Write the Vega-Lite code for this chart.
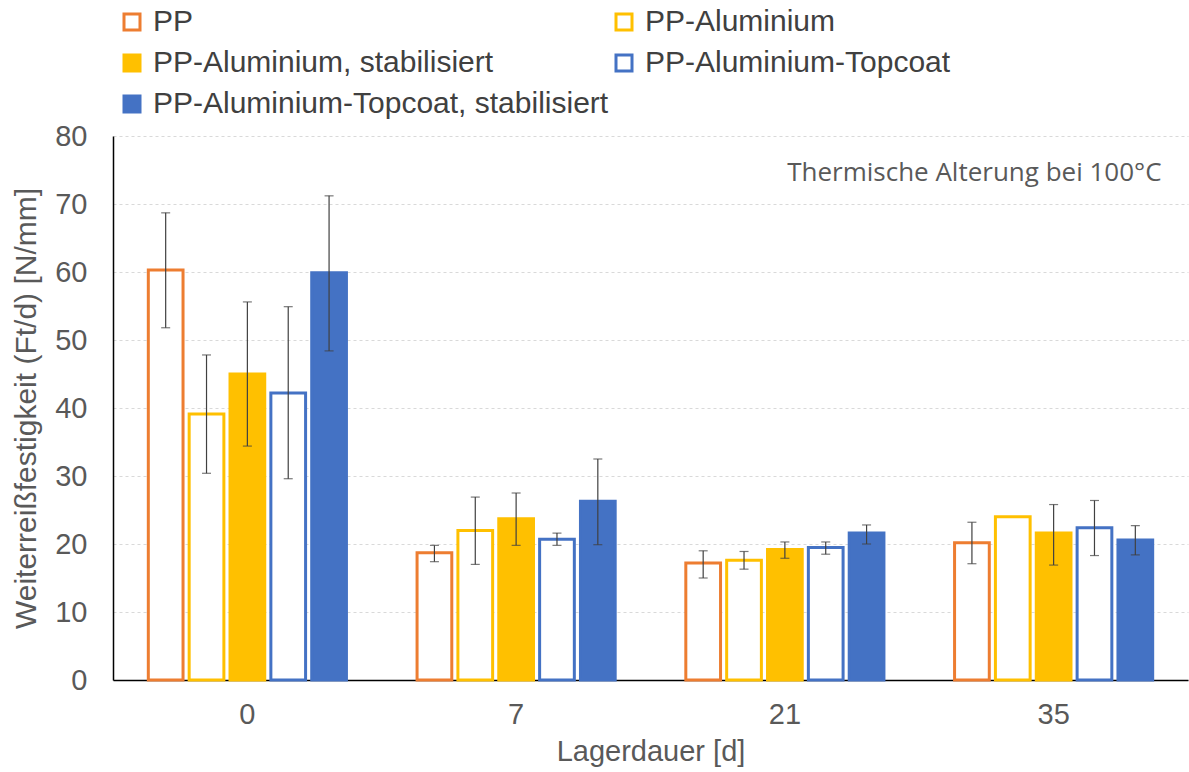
{
  "$schema": "https://vega.github.io/schema/vega-lite/v6.json",
  "width": 1075,
  "height": 544,
  "autosize": "none",
  "padding": {"left": 113, "top": 136, "right": 1, "bottom": 92},
  "background": "white",
  "config": {"font": "Liberation Sans", "view": {"stroke": null}},
  "data": {"values": [
    {"day": "0", "series": "PP", "value": 60.3, "lo": 51.8, "hi": 68.7},
    {"day": "0", "series": "PP-Aluminium", "value": 39.1, "lo": 30.4, "hi": 47.8},
    {"day": "0", "series": "PP-Aluminium, stabilisiert", "value": 45.0, "lo": 34.4, "hi": 55.6},
    {"day": "0", "series": "PP-Aluminium-Topcoat", "value": 42.2, "lo": 29.6, "hi": 54.9},
    {"day": "0", "series": "PP-Aluminium-Topcoat, stabilisiert", "value": 59.9, "lo": 48.4, "hi": 71.2},
    {"day": "7", "series": "PP", "value": 18.7, "lo": 17.4, "hi": 19.8},
    {"day": "7", "series": "PP-Aluminium", "value": 22.0, "lo": 17.0, "hi": 26.9},
    {"day": "7", "series": "PP-Aluminium, stabilisiert", "value": 23.7, "lo": 19.8, "hi": 27.5},
    {"day": "7", "series": "PP-Aluminium-Topcoat", "value": 20.7, "lo": 19.8, "hi": 21.6},
    {"day": "7", "series": "PP-Aluminium-Topcoat, stabilisiert", "value": 26.3, "lo": 19.9, "hi": 32.5},
    {"day": "21", "series": "PP", "value": 17.2, "lo": 15.0, "hi": 19.0},
    {"day": "21", "series": "PP-Aluminium", "value": 17.6, "lo": 16.3, "hi": 18.9},
    {"day": "21", "series": "PP-Aluminium, stabilisiert", "value": 19.2, "lo": 17.9, "hi": 20.3},
    {"day": "21", "series": "PP-Aluminium-Topcoat", "value": 19.5, "lo": 18.5, "hi": 20.3},
    {"day": "21", "series": "PP-Aluminium-Topcoat, stabilisiert", "value": 21.6, "lo": 20.0, "hi": 22.8},
    {"day": "35", "series": "PP", "value": 20.2, "lo": 17.1, "hi": 23.2},
    {"day": "35", "series": "PP-Aluminium", "value": 24.0, "lo": null, "hi": null},
    {"day": "35", "series": "PP-Aluminium, stabilisiert", "value": 21.6, "lo": 16.9, "hi": 25.8},
    {"day": "35", "series": "PP-Aluminium-Topcoat", "value": 22.4, "lo": 18.3, "hi": 26.4},
    {"day": "35", "series": "PP-Aluminium-Topcoat, stabilisiert", "value": 20.6, "lo": 18.4, "hi": 22.7}
  ]},
  "encoding": {
    "x": {
      "field": "day", "type": "nominal", "sort": ["0", "7", "21", "35"],
      "scale": {"paddingInner": 0.24, "paddingOuter": 0.12},
      "title": "Lagerdauer [d]",
      "axis": {
        "labelAngle": 0, "ticks": false, "domainColor": "black", "domainWidth": 1.5,
        "labelPadding": 20, "labelFontSize": 29, "labelColor": "#595959",
        "titleFontSize": 29, "titleColor": "#595959", "titleFontWeight": "normal",
        "titlePadding": 8, "grid": false
      }
    }
  },
  "layer": [
    {
      "mark": {"type": "bar", "strokeWidth": 3, "strokeJoin": "miter"},
      "encoding": {
        "xOffset": {
          "field": "series", "type": "nominal",
          "sort": ["PP", "PP-Aluminium", "PP-Aluminium, stabilisiert", "PP-Aluminium-Topcoat", "PP-Aluminium-Topcoat, stabilisiert"],
          "scale": {"paddingInner": 0.15, "paddingOuter": 0.075}
        },
        "y": {
          "field": "value", "type": "quantitative",
          "scale": {"domain": [0, 80], "nice": false},
          "title": "Weiterreißfestigkeit (Ft/d) [N/mm]",
          "axis": {
            "values": [0, 10, 20, 30, 40, 50, 60, 70, 80],
            "domainColor": "black", "domainWidth": 1.5, "ticks": false,
            "labelPadding": 26, "labelFontSize": 29, "labelColor": "#595959",
            "titleFontSize": 30, "titleColor": "#595959", "titleFontWeight": "normal",
            "titlePadding": 13, "grid": true, "gridColor": "#D9D9D9", "gridDash": [3, 3]
          }
        },
        "stroke": {
          "field": "series", "type": "nominal",
          "scale": {
            "domain": ["PP", "PP-Aluminium", "PP-Aluminium, stabilisiert", "PP-Aluminium-Topcoat", "PP-Aluminium-Topcoat, stabilisiert"],
            "range": ["#ED7D31", "#FFC000", "#FFC000", "#4472C4", "#4472C4"]
          },
          "legend": {
            "title": null, "orient": "none", "legendX": 4, "legendY": -129, "direction": "horizontal",
            "columns": 2, "symbolType": "square", "symbolSize": 256, "symbolStrokeWidth": 3,
            "labelFontSize": 30, "labelColor": "#404040", "labelOffset": 6,
            "rowPadding": 11, "columnPadding": -3, "labelLimit": 700
          }
        },
        "fill": {
          "field": "series", "type": "nominal",
          "scale": {
            "domain": ["PP", "PP-Aluminium", "PP-Aluminium, stabilisiert", "PP-Aluminium-Topcoat", "PP-Aluminium-Topcoat, stabilisiert"],
            "range": ["#FFFFFF", "#FFFFFF", "#FFC000", "#FFFFFF", "#4472C4"]
          },
          "legend": {
            "title": null, "orient": "none", "legendX": 4, "legendY": -129, "direction": "horizontal",
            "columns": 2, "symbolType": "square", "symbolSize": 256, "symbolStrokeWidth": 3,
            "labelFontSize": 30, "labelColor": "#404040", "labelOffset": 6,
            "rowPadding": 11, "columnPadding": -3, "labelLimit": 700
          }
        }
      }
    },
    {
      "transform": [{"filter": "datum.hi != null"}],
      "mark": {"type": "rule", "color": "#404040", "strokeWidth": 1.2},
      "encoding": {
        "xOffset": {"field": "series", "type": "nominal", "sort": ["PP", "PP-Aluminium", "PP-Aluminium, stabilisiert", "PP-Aluminium-Topcoat", "PP-Aluminium-Topcoat, stabilisiert"]},
        "y": {"field": "lo", "type": "quantitative"},
        "y2": {"field": "hi"}
      }
    },
    {
      "transform": [{"filter": "datum.hi != null"}],
      "mark": {"type": "tick", "color": "#404040", "thickness": 1.2, "size": 9, "orient": "horizontal"},
      "encoding": {
        "xOffset": {"field": "series", "type": "nominal", "sort": ["PP", "PP-Aluminium", "PP-Aluminium, stabilisiert", "PP-Aluminium-Topcoat", "PP-Aluminium-Topcoat, stabilisiert"]},
        "y": {"field": "lo", "type": "quantitative"}
      }
    },
    {
      "transform": [{"filter": "datum.hi != null"}],
      "mark": {"type": "tick", "color": "#404040", "thickness": 1.2, "size": 9, "orient": "horizontal"},
      "encoding": {
        "xOffset": {"field": "series", "type": "nominal", "sort": ["PP", "PP-Aluminium", "PP-Aluminium, stabilisiert", "PP-Aluminium-Topcoat", "PP-Aluminium-Topcoat, stabilisiert"]},
        "y": {"field": "hi", "type": "quantitative"}
      }
    },
    {
      "data": {"values": [{"label": "Thermische Alterung bei 100°C"}]},
      "mark": {"type": "text", "align": "right", "baseline": "middle", "font": "Open Sans", "fontSize": 26, "color": "#595959", "dx": 108},
      "encoding": {
        "x": {"datum": "35"},
        "y": {"datum": 74.5},
        "text": {"field": "label"}
      }
    }
  ]
}
